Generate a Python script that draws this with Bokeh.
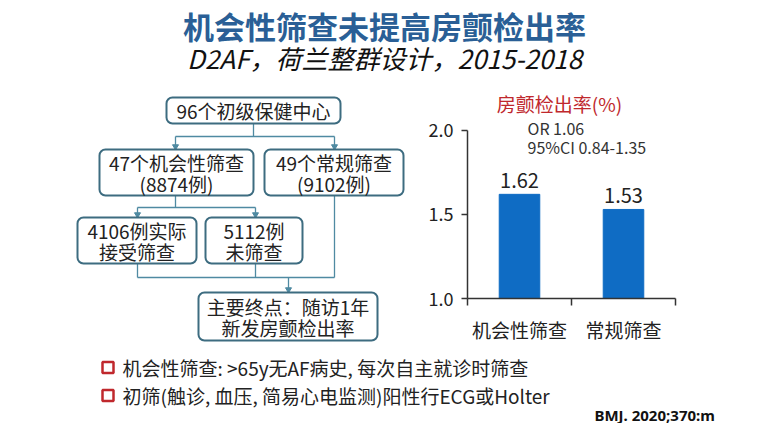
import numpy as np
from bokeh.plotting import figure
from bokeh.layouts import column, row
from bokeh.models import Range1d, FixedTicker, LinearAxis, NumeralTickFormatter
from bokeh.core.properties import value
from bokeh.embed import file_html
from bokeh.resources import INLINE

# ---------------- data ----------------
title_text = "机会性筛查未提高房颤检出率"
subtitle_text = "D2AF，荷兰整群设计，2015-2018"
chart_title = "房颤检出率(%)"
categories = ["机会性筛查", "常规筛查"]
rates = [1.62, 1.53]
rate_labels = ["1.62", "1.53"]
y_ticks = [1.0, 1.5, 2.0]
or_lines = ["OR 1.06", "95%CI 0.84-1.35"]
box_centers = ["96个初级保健中心"]
box_arms = [["47个机会性筛查", "(8874例)"], ["49个常规筛查", "(9102例)"]]
box_sub = [["4106例实际", "接受筛查"], ["5112例", "未筛查"]]
box_end = ["主要终点：随访1年", "新发房颤检出率"]
bullets = ["机会性筛查: >65y无AF病史, 每次自主就诊时筛查",
           "初筛(触诊, 血压, 简易心电监测)阳性行ECG或Holter"]
source_text = "BMJ. 2020;370:m"

CJK = value("Noto Sans CJK SC")
TXT = "#222222"
BOX_LINE = "#3d6c80"
FLOW_LINE = "#4f8aa2"
BAR = "#0f6cc4"
RED = "#c0282d"
W = 763


def blank(w, h, xr, yr):
    p = figure(width=w, height=h, x_range=Range1d(*xr), y_range=Range1d(*yr),
               output_backend="svg", toolbar_location=None, min_border=0,
               x_axis_location=None, y_axis_location=None, frame_align=False)
    p.grid.visible = False
    p.outline_line_color = None
    p.background_fill_color = "white"
    p.border_fill_color = "white"
    return p


# ---------------- title ----------------
pt = blank(W, 83, (0, 763), (83, 0))
pt.text(x=[384], y=[25], text=[title_text], text_font=CJK, text_font_size="31px",
        text_font_style="bold", text_color="#2a5f96", text_align="center",
        text_baseline="middle")
pt.text(x=[384], y=[57], text=[subtitle_text], text_font=CJK, text_font_size="26px",
        text_font_style="italic", text_color="#111111", text_align="center",
        text_baseline="middle")

# ---------------- flow chart ----------------
pf = blank(408, 265, (0, 408), (348, 83))


def box(l, r, t, b, lines):
    pf.quad(left=[l], right=[r], top=[t], bottom=[b], fill_color="white",
            line_color=BOX_LINE, line_width=2, border_radius=6)
    cy = (t + b) / 2
    n = len(lines)
    ys = [cy + (i - (n - 1) / 2) * 21 for i in range(n)]
    pf.text(x=[(l + r) / 2] * n, y=ys, text=lines, text_font=CJK,
            text_font_size="19px", text_color=TXT, text_align="center",
            text_baseline="middle")


segs = [
    (253, 123, 253, 136), (175, 136, 334, 136), (175, 136, 175, 147), (334, 136, 334, 147),
    (175, 195, 175, 207), (137, 207, 255, 207), (137, 207, 137, 215), (255, 207, 255, 215),
    (137, 263, 137, 277), (255, 263, 255, 277), (334, 195, 334, 277), (137, 277, 334, 277),
    (288, 277, 288, 290),
]
pf.segment(x0=[s[0] for s in segs], y0=[s[1] for s in segs],
           x1=[s[2] for s in segs], y1=[s[3] for s in segs],
           line_color=FLOW_LINE, line_width=1.3)
pf.scatter(x=[175, 334, 137, 255, 288], y=[146, 146, 214, 214, 289],
           marker="inverted_triangle", size=6, color=FLOW_LINE)

box(166, 340, 97, 123, box_centers)
box(99, 253, 149, 195, box_arms[0])
box(264, 403, 149, 195, box_arms[1])
box(77, 196, 217, 263, box_sub[0])
box(205, 302, 217, 263, box_sub[1])
box(198, 377, 292, 340, box_end)

# ---------------- bar chart ----------------
pb = figure(width=355, height=265, x_range=Range1d(0, 2), y_range=Range1d(1.0, 2.238),
            output_backend="svg", toolbar_location=None,
            x_axis_location=None, y_axis_location=None, frame_align=False,
            min_border_left=59, min_border_right=88, min_border_top=7, min_border_bottom=50)
pb.grid.visible = False
pb.outline_line_color = None

xs = np.arange(len(categories)) + 0.5
pb.vbar(x=xs, top=rates, bottom=1.0, width=0.39, color=BAR)
pb.text(x=xs, y=rates, text=rate_labels, text_font=CJK, text_font_size="20px",
        text_color=TXT, text_align="center", text_baseline="bottom", y_offset=-6)
pb.text(x=[0.885], y=[2.161], text=[chart_title], text_font=CJK, text_font_size="19px",
        text_color=RED, text_align="center", text_baseline="middle")
pb.text(x=[0.577, 0.577], y=[2.012, 1.899], text=or_lines, text_font=CJK,
        text_font_size="16px", text_color="#333333", text_align="left",
        text_baseline="middle")

yaxis = LinearAxis(ticker=FixedTicker(ticks=y_ticks), bounds=(1.0, 2.0),
                   formatter=NumeralTickFormatter(format="0.0"))
yaxis.major_tick_out = 6
yaxis.major_tick_in = 0
yaxis.minor_tick_out = 0
yaxis.minor_tick_in = 0
yaxis.major_label_standoff = 8
yaxis.axis_line_color = "#333333"
yaxis.axis_line_width = 1.5
yaxis.major_tick_line_color = "#333333"
yaxis.major_tick_line_width = 1.5
yaxis.major_label_text_font = "Noto Sans CJK SC"
yaxis.major_label_text_font_size = "18px"
yaxis.major_label_text_color = TXT
pb.add_layout(yaxis, "left")

xaxis = LinearAxis(ticker=FixedTicker(ticks=list(xs), minor_ticks=[0, 1, 2]),
                   major_label_overrides={float(x): c for x, c in zip(xs, categories)})
xaxis.major_tick_out = 0
xaxis.major_tick_in = 0
xaxis.minor_tick_out = 7
xaxis.minor_tick_in = 0
xaxis.minor_tick_line_color = "#333333"
xaxis.minor_tick_line_width = 1.5
xaxis.axis_line_color = "#333333"
xaxis.axis_line_width = 1.5
xaxis.major_label_standoff = 10
xaxis.major_label_text_font = "Noto Sans CJK SC"
xaxis.major_label_text_font_size = "19px"
xaxis.major_label_text_color = TXT
pb.add_layout(xaxis, "below")

# ---------------- bullets ----------------
pn = blank(W, 75, (0, 763), (423, 348))
pn.scatter(x=[107.5, 107.5], y=[367, 395], marker="square", size=11,
           fill_color="white", line_color=RED, line_width=2.5)
pn.text(x=[122, 122], y=[367, 395], text=bullets, text_font=CJK, text_font_size="19px",
        text_color=TXT, text_align="left", text_baseline="middle")
pn.text(x=[594], y=[414], text=[source_text], text_font=value("Noto Sans"),
        text_font_size="15px", text_font_style="bold", text_color="#111111",
        text_align="left", text_baseline="middle")

layout = column(pt, row(pf, pb), pn)
# heights: 83 + 265 + 75 = 423 ; widths 408 + 355 = 763
open("out.html", "w").write(file_html(layout, INLINE))
